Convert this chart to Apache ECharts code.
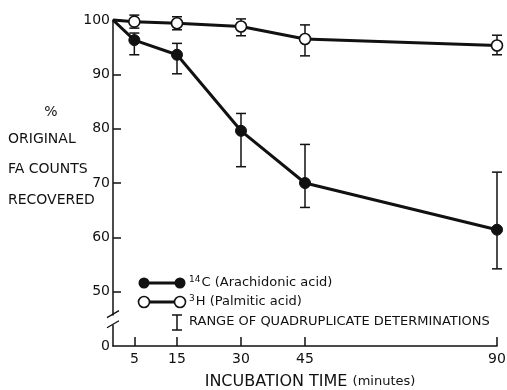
<!DOCTYPE html>
<html>
<head>
<meta charset="utf-8">
<script src="https://cdn.jsdelivr.net/npm/echarts@6/dist/echarts.min.js"></script>
<style>
html, body { margin: 0; padding: 0; background: #fff; }
#main { width: 507px; height: 390px; }
</style>
</head>
<body>
<div id="main"></div>
<script>
// 数据 (minutes, % recovered)
var times = [0, 5, 15, 30, 45, 90];
var xTicks = [5, 15, 30, 45, 90];
var yTicks = [40, 50, 60, 70, 80, 90, 100];   // 40 is shown as "0" (broken axis)
var arachidonic = [100, 96.3, 93.6, 79.6, 70.0, 61.4];
var arachLow = [null, 93.6, 90.1, 73.0, 65.5, 54.2];
var arachHigh = [null, 97.6, 95.7, 82.8, 77.1, 72.0];
var palmitic = [100, 99.7, 99.4, 98.8, 96.5, 95.3];
var palmLow = [null, 98.5, 98.2, 97.1, 93.4, 93.6];
var palmHigh = [null, 100.9, 100.6, 100.2, 99.1, 97.2];

var FONT = 'DejaVu Sans';
var INK = '#111';

function pairs(vals) {
    return times.map(function (t, i) {
        return {
            value: [t, vals[i]],
            symbol: t === 0 ? 'none' : 'circle'
        };
    });
}
function bars(lo, hi) {
    var out = [];
    times.forEach(function (t, i) {
        if (lo[i] != null) out.push([t, lo[i], hi[i]]);
    });
    return out;
}
function errorBar(params, api) {
    var x = api.value(0);
    var a = api.coord([x, api.value(1)]);
    var b = api.coord([x, api.value(2)]);
    var w = 5;
    var st = { stroke: INK, lineWidth: 1.5 };
    return {
        type: 'group',
        children: [
            { type: 'line', shape: { x1: a[0], y1: a[1], x2: b[0], y2: b[1] }, style: st },
            { type: 'line', shape: { x1: a[0] - w, y1: a[1], x2: a[0] + w, y2: a[1] }, style: st },
            { type: 'line', shape: { x1: b[0] - w, y1: b[1], x2: b[0] + w, y2: b[1] }, style: st }
        ]
    };
}

var myChart = echarts.init(document.getElementById('main'));

var option = {
    animation: false,
    backgroundColor: '#fff',
    grid: { left: 113, top: 20, right: 10, bottom: 44, containLabel: false, outerBoundsMode: 'none' },
    xAxis: {
        type: 'value', min: 0, max: 90,
        splitLine: { show: false },
        axisLine: { lineStyle: { color: INK, width: 1.5 } },
        axisTick: { inside: true, length: 9, customValues: xTicks, lineStyle: { color: INK, width: 1.5 } },
        axisLabel: { customValues: xTicks, margin: 6, color: INK, fontFamily: FONT, fontSize: 14 }
    },
    yAxis: {
        type: 'value', min: 40, max: 100,
        splitLine: { show: false },
        axisLine: { show: true, lineStyle: { color: INK, width: 1.5 } },
        axisTick: { show: true, inside: true, length: 8, customValues: yTicks.slice(1), lineStyle: { color: INK, width: 1.5 } },
        axisLabel: {
            customValues: yTicks, margin: 3, color: INK, fontFamily: FONT, fontSize: 14,
            formatter: function (v) { return v === 40 ? '0' : String(v); }
        }
    },
    series: [
        {
            type: 'custom', renderItem: errorBar, data: bars(palmLow, palmHigh), clip: false, z: 1
        },
        {
            type: 'custom', renderItem: errorBar, data: bars(arachLow, arachHigh), clip: false, z: 1
        },
        {
            name: '3H', type: 'line', data: pairs(palmitic), clip: false, z: 3,
            symbolSize: 11, showAllSymbol: true,
            lineStyle: { color: INK, width: 3 },
            itemStyle: { color: '#fff', borderColor: INK, borderWidth: 1.6 }
        },
        {
            name: '14C', type: 'line', data: pairs(arachidonic), clip: false, z: 3,
            symbolSize: 11, showAllSymbol: true,
            lineStyle: { color: INK, width: 3 },
            itemStyle: { color: INK, borderColor: INK, borderWidth: 1 }
        }
    ]
};
myChart.setOption(option);

// 轴断裂 + 图例 + 标题
var ax = myChart.convertToPixel({ xAxisIndex: 0 }, 0);
var yb1 = myChart.convertToPixel({ yAxisIndex: 0 }, 45.6);
var yb2 = myChart.convertToPixel({ yAxisIndex: 0 }, 43.9);

var sup = { fontSize: 9, verticalAlign: 'top', padding: [0, 1, 7, 0], fontFamily: FONT, fill: INK };
var g = [
    { type: 'rect', shape: { x: ax - 3, y: yb1, width: 6, height: yb2 - yb1 }, style: { fill: '#fff' }, z: 50 },
    { type: 'line', shape: { x1: ax - 6, y1: yb1 + 2, x2: ax + 6, y2: yb1 - 5 }, style: { stroke: INK, lineWidth: 1.3 }, z: 51 },
    { type: 'line', shape: { x1: ax - 6, y1: yb2 + 3, x2: ax + 6, y2: yb2 - 4 }, style: { stroke: INK, lineWidth: 1.3 }, z: 51 },

    // legend: filled
    { type: 'line', shape: { x1: 144, y1: 283, x2: 180, y2: 283 }, style: { stroke: INK, lineWidth: 3 }, z: 60 },
    { type: 'circle', shape: { cx: 144, cy: 283, r: 5.5 }, style: { fill: INK }, z: 61 },
    { type: 'circle', shape: { cx: 180, cy: 283, r: 5.5 }, style: { fill: INK }, z: 61 },
    {
        type: 'text', x: 189, y: 283, z: 61,
        style: {
            text: '{s|14}C (Arachidonic acid)', fill: INK, fontFamily: FONT, fontSize: 13, verticalAlign: 'middle',
            rich: { s: sup }
        }
    },
    // legend: open
    { type: 'line', shape: { x1: 144, y1: 302, x2: 180, y2: 302 }, style: { stroke: INK, lineWidth: 3 }, z: 60 },
    { type: 'circle', shape: { cx: 144, cy: 302, r: 5.5 }, style: { fill: '#fff', stroke: INK, lineWidth: 1.6 }, z: 61 },
    { type: 'circle', shape: { cx: 180, cy: 302, r: 5.5 }, style: { fill: '#fff', stroke: INK, lineWidth: 1.6 }, z: 61 },
    {
        type: 'text', x: 189, y: 302, z: 61,
        style: {
            text: '{s|3}H (Palmitic acid)', fill: INK, fontFamily: FONT, fontSize: 13, verticalAlign: 'middle',
            rich: { s: sup }
        }
    },
    // legend: range
    { type: 'line', shape: { x1: 177, y1: 315, x2: 177, y2: 330 }, style: { stroke: INK, lineWidth: 1.5 }, z: 60 },
    { type: 'line', shape: { x1: 172, y1: 315, x2: 182, y2: 315 }, style: { stroke: INK, lineWidth: 1.5 }, z: 60 },
    { type: 'line', shape: { x1: 172, y1: 330, x2: 182, y2: 330 }, style: { stroke: INK, lineWidth: 1.5 }, z: 60 },
    {
        type: 'text', x: 189, y: 322, z: 61,
        style: { text: 'RANGE OF QUADRUPLICATE DETERMINATIONS', fill: INK, fontFamily: FONT, fontSize: 13, verticalAlign: 'middle' }
    },

    // y title
    { type: 'text', x: 51, y: 112, style: { text: '%', fill: INK, fontFamily: FONT, fontSize: 14, align: 'center', verticalAlign: 'middle' } },
    { type: 'text', x: 8, y: 139, style: { text: 'ORIGINAL', fill: INK, fontFamily: FONT, fontSize: 14, align: 'left', verticalAlign: 'middle' } },
    { type: 'text', x: 8, y: 169, style: { text: 'FA COUNTS', fill: INK, fontFamily: FONT, fontSize: 14, align: 'left', verticalAlign: 'middle' } },
    { type: 'text', x: 8, y: 200, style: { text: 'RECOVERED', fill: INK, fontFamily: FONT, fontSize: 14, align: 'left', verticalAlign: 'middle' } },

    // x title
    {
        type: 'text', x: 310, y: 382,
        style: {
            text: 'INCUBATION TIME {m|(minutes)}', fill: INK, fontFamily: FONT, fontSize: 16, align: 'center', verticalAlign: 'middle',
            rich: { m: { fontSize: 13, fontFamily: FONT, fill: INK } }
        }
    }
];
myChart.setOption({ graphic: g });
</script>
</body>
</html>
